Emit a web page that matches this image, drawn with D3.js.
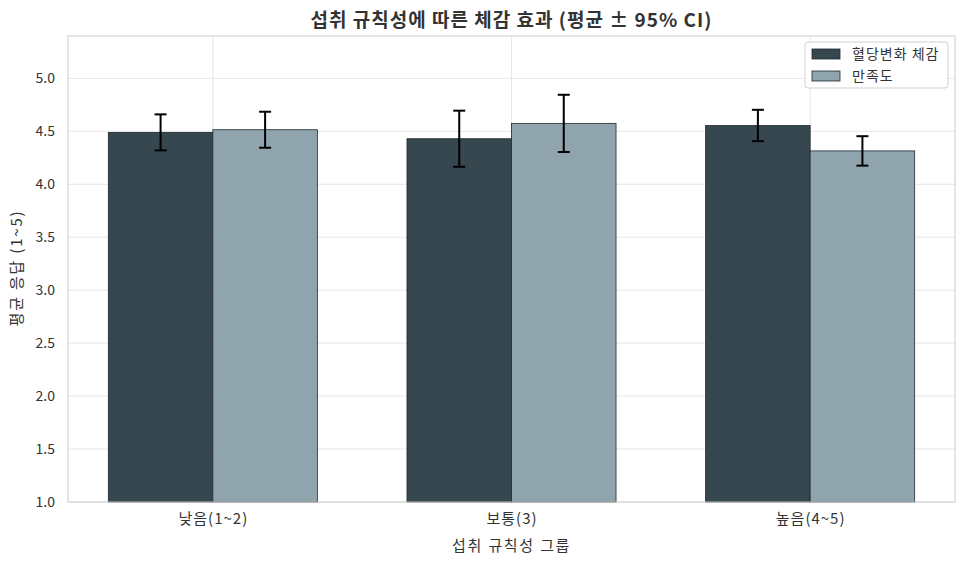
<!DOCTYPE html>
<html><head><meta charset="utf-8">
<script src="https://cdn.jsdelivr.net/npm/d3@7"></script>
<style>body{margin:0;background:#fff}svg{display:block}text{font-family:"Noto Sans CJK KR","Noto Sans",sans-serif}</style>
</head><body>
<svg id="c" width="967" height="565"></svg>
<script>
const categories = ["낮음(1~2)", "보통(3)", "높음(4~5)"];
const seriesNames = ["혈당변화 체감", "만족도"];
const glucoseMean = [4.49, 4.43, 4.555];
const glucoseCI = [0.17, 0.265, 0.148];
const satisfactionMean = [4.515, 4.575, 4.315];
const satisfactionCI = [0.17, 0.27, 0.139];
const yTicks = [1.0, 1.5, 2.0, 2.5, 3.0, 3.5, 4.0, 4.5, 5.0];
const colors = ["#37474f", "#90a4ae"];

const svg = d3.select("#c");
const L = 68, R = 955, T = 36, B = 502;
const barW = 0.35;
const x = d3.scaleLinear().domain([-0.485, 2.485]).range([L, R]);
const y = d3.scaleLinear().domain([1, 5.4]).range([B, T]);

// grid
svg.append("g").selectAll("line").data(yTicks).join("line")
  .attr("x1", L).attr("x2", R).attr("y1", d => y(d)).attr("y2", d => y(d))
  .attr("stroke", "#e6e6e6").attr("stroke-width", 1);
svg.append("g").selectAll("line").data(categories).join("line")
  .attr("x1", (d, i) => x(i)).attr("x2", (d, i) => x(i)).attr("y1", T).attr("y2", B)
  .attr("stroke", "#e6e6e6").attr("stroke-width", 1);

const series = [
  {name: seriesNames[0], mean: glucoseMean, ci: glucoseCI, off: -barW / 2, color: colors[0]},
  {name: seriesNames[1], mean: satisfactionMean, ci: satisfactionCI, off: barW / 2, color: colors[1]}
];

series.forEach(s => {
  const g = svg.append("g");
  g.selectAll("rect").data(s.mean).join("rect")
    .attr("x", (d, i) => x(i + s.off - barW / 2))
    .attr("width", x(barW) - x(0))
    .attr("y", d => y(d)).attr("height", d => y(1) - y(d))
    .attr("fill", s.color).attr("stroke", "#1f2a30").attr("stroke-width", 0.8);
});
series.forEach(s => {
  const g = svg.append("g");
  s.mean.forEach((m, i) => {
    const cx = x(i + s.off);
    const lo = y(m - s.ci[i]), hi = y(m + s.ci[i]);
    g.append("line").attr("x1", cx).attr("x2", cx).attr("y1", lo).attr("y2", hi).attr("stroke", "#000").attr("stroke-width", 2);
    g.append("line").attr("x1", cx - 6).attr("x2", cx + 6).attr("y1", lo).attr("y2", lo).attr("stroke", "#000").attr("stroke-width", 2);
    g.append("line").attr("x1", cx - 6).attr("x2", cx + 6).attr("y1", hi).attr("y2", hi).attr("stroke", "#000").attr("stroke-width", 2);
  });
});

// frame
svg.append("rect").attr("x", L).attr("y", T).attr("width", R - L).attr("height", B - T)
  .attr("fill", "none").attr("stroke", "#cccccc").attr("stroke-width", 1);

// axes
const yAxis = d3.axisLeft(y).tickValues(yTicks).tickFormat(d3.format(".1f")).tickSize(0).tickPadding(13);
const gy = svg.append("g").attr("transform", `translate(${L},0)`).call(yAxis);
gy.select(".domain").remove();
gy.selectAll("text").attr("font-size", 14).attr("fill", "#333");

const xAxis = d3.axisBottom(x).tickValues([0, 1, 2]).tickFormat(i => categories[i]).tickSize(0).tickPadding(11);
const gx = svg.append("g").attr("transform", `translate(0,${B})`).call(xAxis);
gx.select(".domain").remove();
gx.selectAll("text").attr("font-size", 15).attr("letter-spacing", 1).attr("fill", "#333");

// labels
svg.append("text").attr("x", (L + R) / 2).attr("y", 27).attr("text-anchor", "middle")
  .attr("font-size", 19).attr("letter-spacing", 1).attr("font-weight", "bold").attr("fill", "#333").text("섭취 규칙성에 따른 체감 효과 (평균 ± 95% CI)");
svg.append("text").attr("x", (L + R) / 2).attr("y", 551).attr("text-anchor", "middle")
  .attr("font-size", 15).attr("letter-spacing", 1.5).attr("word-spacing", 1).attr("fill", "#333").text("섭취 규칙성 그룹");
svg.append("text").attr("transform", `translate(22,${268}) rotate(-90)`).attr("text-anchor", "middle")
  .attr("font-size", 15).attr("letter-spacing", 1.8).attr("fill", "#333").text("평균 응답 (1~5)");

// legend
const lg = svg.append("g");
lg.append("rect").attr("x", 805).attr("y", 42).attr("width", 143).attr("height", 46).attr("rx", 3)
  .attr("fill", "#fff").attr("fill-opacity", 0.85).attr("stroke", "#d0d0d0");
series.forEach((s, i) => {
  lg.append("rect").attr("x", 812).attr("y", 49 + i * 22).attr("width", 28).attr("height", 10)
    .attr("fill", s.color).attr("stroke", "#1f2a30").attr("stroke-width", 0.8);
  lg.append("text").attr("x", 852).attr("y", 59 + i * 22).attr("font-size", 14).attr("letter-spacing", 1).attr("fill", "#333").text(s.name);
});
</script>
</body></html>
